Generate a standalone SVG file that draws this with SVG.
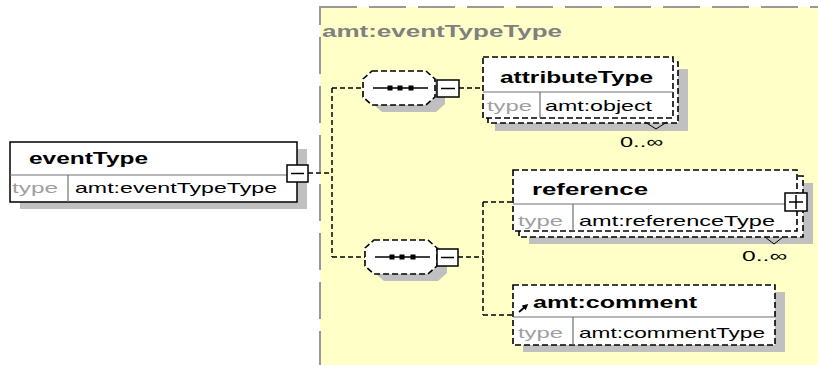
<svg xmlns="http://www.w3.org/2000/svg" width="818" height="365" viewBox="0 0 818 365">
  <style>
    .bg { fill: #ffffff; }
    .typearea { fill: #ffffc8; stroke: #999999; stroke-width: 2; stroke-dasharray: 37 12; }
    .shadow { fill: #c0c0c0; stroke: none; }
    .solid { fill: #ffffff; stroke: #000000; stroke-width: 1.5; }
    .dashed { fill: #ffffff; stroke: #000000; stroke-width: 1.6; stroke-dasharray: 6 3; }
    .divider { stroke: #707070; stroke-width: 1.2; fill: none; }
    .btn { fill: #ffffff; stroke: #000000; stroke-width: 1.5; }
    .btnline { stroke: #000000; stroke-width: 1.5; fill: none; }
    .conn { fill: none; stroke: #000000; stroke-width: 1.5; stroke-dasharray: 5 3; }
    .notch { fill: none; stroke: #000000; stroke-width: 1; }
    .name { font-family: "Liberation Sans", Arial, sans-serif; font-size: 16px; font-weight: bold; fill: #000000; }
    .lbl { font-family: "Liberation Sans", Arial, sans-serif; font-size: 15px; fill: #000000; }
    .key { font-family: "Liberation Sans", Arial, sans-serif; font-size: 15px; fill: #a0a0a0; }
    .hdr { font-family: "Liberation Sans", Arial, sans-serif; font-size: 16px; font-weight: bold; fill: #808080; }
  </style>
  <defs>
    <path id="seqShape" d="M9,0 H63 L72,8 V26 L63,34 H9 L0,26 V8 Z"/>
    <marker id="refArrow" markerWidth="6" markerHeight="6" refX="3" refY="3" orient="auto" markerUnits="userSpaceOnUse">
      <path d="M0,0 L6,3 L0,6 Z" fill="#000000"/>
    </marker>
  </defs>

  <rect class="bg" x="0" y="0" width="818" height="365"/>

  <!-- complex type area -->
  <g id="eventTypeType">
    <rect class="typearea" x="320" y="7" width="540" height="400"/>
    <text class="hdr" x="322" y="37" textLength="240" lengthAdjust="spacingAndGlyphs">amt:eventTypeType</text>
  </g>

  <!-- connectors -->
  <g id="connectors">
    <path class="conn" d="M308,173 H332"/>
    <path class="conn" d="M332,88 V257"/>
    <path class="conn" d="M332,88 H363"/>
    <path class="conn" d="M332,257 H365"/>
    <path class="conn" d="M459,88 H483"/>
    <path class="conn" d="M458,257 H483"/>
    <path class="conn" d="M483,202 V315"/>
    <path class="conn" d="M483,202 H513"/>
    <path class="conn" d="M483,315 H513"/>
  </g>

  <!-- root element -->
  <g id="eventType">
    <rect class="shadow" x="20" y="149" width="287" height="60"/>
    <rect class="solid" x="10" y="142" width="287" height="60"/>
    <line class="divider" x1="10" y1="175" x2="297" y2="175"/>
    <line class="divider" x1="68" y1="175" x2="68" y2="202"/>
    <text class="name" x="29" y="164" textLength="119" lengthAdjust="spacingAndGlyphs">eventType</text>
    <text class="key" x="12" y="193" textLength="46" lengthAdjust="spacingAndGlyphs">type</text>
    <text class="lbl" x="75" y="193" textLength="202" lengthAdjust="spacingAndGlyphs">amt:eventTypeType</text>
    <rect class="btn" x="287" y="165" width="21" height="17"/>
    <line class="btnline" x1="291" y1="173.5" x2="304" y2="173.5"/>
  </g>

  <!-- first sequence -->
  <g id="sequence1">
    <use href="#seqShape" x="373" y="78" class="shadow"/>
    <use href="#seqShape" x="363" y="71" class="dashed"/>
    <line class="btnline" x1="373" y1="88" x2="428" y2="88"/>
    <rect x="387.5" y="85.5" width="5" height="5" fill="#000000"/>
    <rect x="397.5" y="85.5" width="5" height="5" fill="#000000"/>
    <rect x="408.5" y="85.5" width="5" height="5" fill="#000000"/>
    <rect class="btn" x="437" y="80" width="22" height="17"/>
    <line class="btnline" x1="441" y1="88.5" x2="455" y2="88.5"/>
  </g>

  <!-- attributeType, repeating -->
  <g id="attributeType">
    <rect class="shadow" x="495" y="69" width="193" height="62"/>
    <rect class="dashed" x="488" y="62" width="190" height="61"/>
    <rect class="dashed" x="483" y="57" width="190" height="61"/>
    <line class="divider" x1="483" y1="92" x2="673" y2="92"/>
    <line class="divider" x1="540" y1="92" x2="540" y2="118"/>
    <text class="name" x="500" y="83" textLength="153" lengthAdjust="spacingAndGlyphs">attributeType</text>
    <text class="key" x="487" y="111" textLength="45" lengthAdjust="spacingAndGlyphs">type</text>
    <text class="lbl" x="545" y="111" textLength="107" lengthAdjust="spacingAndGlyphs">amt:object</text>
    <polyline class="notch" points="645,122 656,129 667,122"/>
    <text class="lbl" x="620" y="147" textLength="43" lengthAdjust="spacingAndGlyphs">0..∞</text>
  </g>

  <!-- second sequence -->
  <g id="sequence2">
    <use href="#seqShape" x="375" y="247" class="shadow"/>
    <use href="#seqShape" x="365" y="240" class="dashed"/>
    <line class="btnline" x1="375" y1="257" x2="430" y2="257"/>
    <rect x="389.5" y="254.5" width="5" height="5" fill="#000000"/>
    <rect x="399.5" y="254.5" width="5" height="5" fill="#000000"/>
    <rect x="410.5" y="254.5" width="5" height="5" fill="#000000"/>
    <rect class="btn" x="437" y="249" width="21" height="17"/>
    <line class="btnline" x1="441" y1="257.5" x2="454" y2="257.5"/>
  </g>

  <!-- reference, repeating -->
  <g id="reference">
    <rect class="shadow" x="529" y="183" width="284" height="61"/>
    <rect class="dashed" x="519" y="176" width="284" height="61"/>
    <rect class="dashed" x="513" y="170" width="284" height="61"/>
    <line class="divider" x1="513" y1="204" x2="797" y2="204"/>
    <line class="divider" x1="573" y1="204" x2="573" y2="231"/>
    <text class="name" x="532" y="195" textLength="116" lengthAdjust="spacingAndGlyphs">reference</text>
    <text class="key" x="518" y="226" textLength="45" lengthAdjust="spacingAndGlyphs">type</text>
    <text class="lbl" x="579" y="226" textLength="196" lengthAdjust="spacingAndGlyphs">amt:referenceType</text>
    <rect class="btn" x="785" y="193" width="22" height="18"/>
    <line class="btnline" x1="789" y1="202" x2="803" y2="202"/>
    <line class="btnline" x1="796" y1="195" x2="796" y2="209"/>
    <polyline class="notch" points="765,237 774,244 783,237"/>
    <text class="lbl" x="742" y="261" textLength="45" lengthAdjust="spacingAndGlyphs">0..∞</text>
  </g>

  <!-- referenced global element -->
  <g id="amt-comment">
    <rect class="shadow" x="523" y="292" width="262" height="60"/>
    <rect class="dashed" x="513" y="285" width="262" height="60"/>
    <line class="divider" x1="513" y1="317" x2="775" y2="317"/>
    <line class="divider" x1="573" y1="317" x2="573" y2="345"/>
    <line x1="519" y1="312" x2="526" y2="306" stroke="#000000" stroke-width="1.8" marker-end="url(#refArrow)"/>
    <text class="name" x="533" y="308" textLength="164" lengthAdjust="spacingAndGlyphs">amt:comment</text>
    <text class="key" x="518" y="338" textLength="45" lengthAdjust="spacingAndGlyphs">type</text>
    <text class="lbl" x="579" y="338" textLength="186" lengthAdjust="spacingAndGlyphs">amt:commentType</text>
  </g>
</svg>
